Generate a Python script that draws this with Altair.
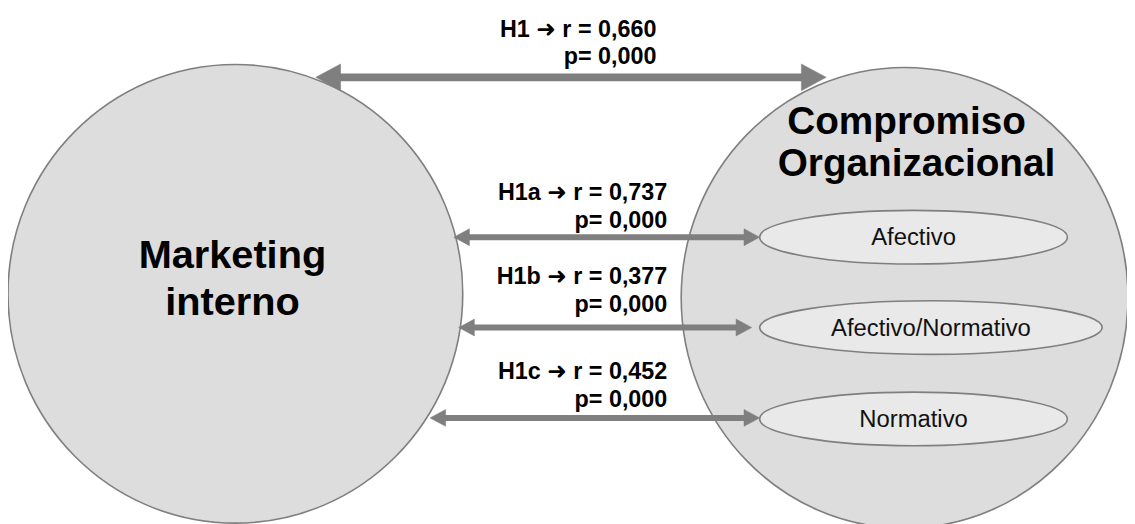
import altair as alt
import pandas as pd

# ---------------- data ----------------
circle_names = ["Marketing interno", "Compromiso Organizacional"]
circle_cx = [237, 911]
circle_cy = [294, 298]
circle_rx = [229, 225]
circle_ry = [231, 232]

title_lines = ["Marketing", "interno", "Compromiso", "Organizacional"]
title_x = [234, 234, 913, 923]
title_y = [268, 315, 133, 175]

dim_names = ["Afectivo", "Afectivo/Normativo", "Normativo"]
dim_cx = [920, 937.5, 920]
dim_cy = [237, 328, 420]
dim_rx = [155, 172.5, 155]
dim_ry = [27, 27, 27]

hypotheses = ["H1", "H1a", "H1b", "H1c"]
r_values = ["0,660", "0,737", "0,377", "0,452"]
p_values = ["0,000", "0,000", "0,000", "0,000"]
arrow_y = [76, 237, 328, 419]
arrow_x_from = [318, 457, 462, 433]
arrow_x_to = [832, 765, 757, 765]
label_x = [661, 672, 672, 672]
label_y1 = [35, 200, 284, 380]
label_y2 = [63, 228, 312, 408]

# ---------------- helpers ----------------
W, H, M = 1135, 524, 8
FONT = "Liberation Sans, Arial, DejaVu Sans"
GREY = "#7f7f7f"


def ellipse_path(rx, ry):
    k = ry / rx
    return f"M-1,0A1,{k:.5f},0,1,1,1,0A1,{k:.5f},0,1,1,-1,0Z"


xs = alt.Scale(domain=[M, W], range=[0, W - M], nice=False, zero=False)
ys = alt.Scale(domain=[M, H], range=[0, H - M], nice=False, zero=False)
X = lambda f: alt.X(f"{f}:Q", scale=xs, axis=None)
Y = lambda f: alt.Y(f"{f}:Q", scale=ys, axis=None)

circles = pd.DataFrame({
    "name": circle_names, "x": circle_cx, "y": circle_cy,
    "shape": [ellipse_path(a, b) for a, b in zip(circle_rx, circle_ry)],
    "size": [(2 * a) ** 2 for a in circle_rx],
})
dims = pd.DataFrame({
    "name": dim_names, "x": dim_cx, "y": dim_cy,
    "shape": [ellipse_path(a, b) for a, b in zip(dim_rx, dim_ry)],
    "size": [(2 * a) ** 2 for a in dim_rx],
})
titles = pd.DataFrame({"text": title_lines, "x": title_x, "y": title_y,
                       "big": [1, 1, 0, 0]})

# arrows
head_s = [13.5, 8.5, 8.5, 8.5]      # half height of arrow head
shaft_w = [8, 6, 6, 6]
RATIO = 1.85
rows_shaft, rows_head = [], []
for i in range(len(hypotheses)):
    L = head_s[i] * RATIO
    rows_shaft.append({"x": arrow_x_from[i] + 0.9 * L, "x2": arrow_x_to[i] - 0.9 * L,
                       "y": arrow_y[i], "w": shaft_w[i], "h": hypotheses[i]})
    rows_head.append({"x": arrow_x_from[i], "y": arrow_y[i],
                      "shape": f"M0,0L{RATIO},-1L{RATIO},1Z", "size": (2 * head_s[i]) ** 2})
    rows_head.append({"x": arrow_x_to[i], "y": arrow_y[i],
                      "shape": f"M0,0L-{RATIO},-1L-{RATIO},1Z", "size": (2 * head_s[i]) ** 2})
shafts = pd.DataFrame(rows_shaft)
heads = pd.DataFrame(rows_head)

labels = pd.DataFrame({
    "l1": [f"{h} \u279c r = {r}" for h, r in zip(hypotheses, r_values)],
    "l2": [f"p= {p}" for p in p_values],
    "x": label_x, "y1": label_y1, "y2": label_y2,
})

# ---------------- layers ----------------
big = alt.Chart(circles).mark_point(
    filled=True, fill="#dddddd", stroke=GREY, strokeWidth=1.6, opacity=1
).encode(x=X("x"), y=Y("y"), shape=alt.Shape("shape:N", scale=None),
         size=alt.Size("size:Q", scale=None))

shaft_layer = alt.Chart(shafts).mark_rule(color=GREY, strokeCap="butt").encode(
    x=X("x"), x2="x2", y=Y("y"), strokeWidth=alt.StrokeWidth("w:Q", scale=None))

head_layer = alt.Chart(heads).mark_point(
    filled=True, fill=GREY, stroke=GREY, strokeWidth=0.5, opacity=1
).encode(x=X("x"), y=Y("y"), shape=alt.Shape("shape:N", scale=None),
         size=alt.Size("size:Q", scale=None))

dim_layer = alt.Chart(dims).mark_point(
    filled=True, fill="#e9e9e9", stroke=GREY, strokeWidth=1.6, opacity=1
).encode(x=X("x"), y=Y("y"), shape=alt.Shape("shape:N", scale=None),
         size=alt.Size("size:Q", scale=None))

dim_text = alt.Chart(dims).mark_text(
    font=FONT, fontSize=24, color="#111111", baseline="middle", align="center", dy=1
).encode(x=X("x"), y=Y("y"), text="name:N")

title_big = alt.Chart(titles).transform_filter("datum.big == 1").mark_text(
    font=FONT, fontSize=40, fontWeight="bold", color="black", baseline="alphabetic", align="center"
).encode(x=X("x"), y=Y("y"), text="text:N")

title_right = alt.Chart(titles).transform_filter("datum.big == 0").mark_text(
    font=FONT, fontSize=39, fontWeight="bold", color="black", baseline="alphabetic", align="center"
).encode(x=X("x"), y=Y("y"), text="text:N")

lab1 = alt.Chart(labels).mark_text(
    font=FONT, fontSize=23.5, fontWeight="bold", color="black", baseline="alphabetic", align="right"
).encode(x=X("x"), y=Y("y1"), text="l1:N")

lab2 = alt.Chart(labels).mark_text(
    font=FONT, fontSize=23.5, fontWeight="bold", color="black", baseline="alphabetic", align="right"
).encode(x=X("x"), y=Y("y2"), text="l2:N")

chart = alt.layer(
    big, shaft_layer, head_layer, dim_layer, dim_text, title_big, title_right, lab1, lab2
).properties(
    width=W - M, height=H - M, padding=0, autosize=alt.AutoSizeParams(type="none"),
    background="white"
).configure_view(stroke=None)

chart.save("out.html", embed_options={"renderer": "svg", "actions": False})
